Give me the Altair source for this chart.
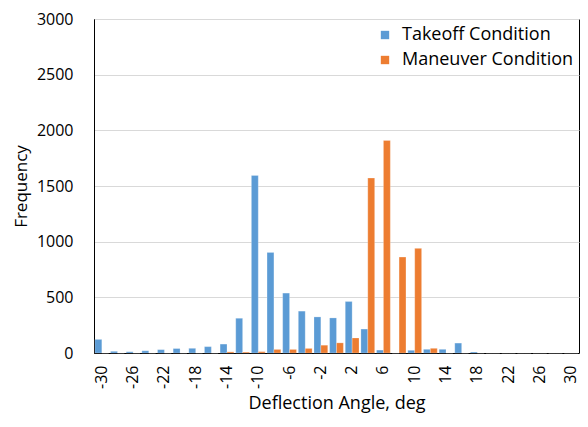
import altair as alt
import pandas as pd

angles = [-30, -28, -26, -24, -22, -20, -18, -16, -14, -12, -10, -8, -6, -4, -2, 0,
          2, 4, 6, 8, 10, 12, 14, 16, 18, 20, 22, 24, 26, 28, 30]
takeoff = [122, 15, 12, 20, 30, 40, 42, 57, 80, 312, 1595, 903, 538, 376, 324, 315,
           462, 215, 26, 0, 24, 33, 33, 89, 9, 0, 0, 0, 0, 0, 0]
maneuver = [0, 0, 0, 0, 0, 0, 0, 0, 10, 8, 12, 32, 32, 41, 70, 91,
            135, 1571, 1909, 862, 940, 42, 0, 0, 0, 0, 0, 0, 0, 0, 0]
series_names = ["Takeoff Condition", "Maneuver Condition"]
colors = ["#5B9BD5", "#ED7D31"]
label_values = [-30, -26, -22, -18, -14, -10, -6, -2, 2, 6, 10, 14, 18, 22, 26, 30]
y_ticks = [0, 500, 1000, 1500, 2000, 2500, 3000]

rows = []
for a, t, m in zip(angles, takeoff, maneuver):
    rows.append({"angle": str(a), "series": series_names[0], "freq": t})
    rows.append({"angle": str(a), "series": series_names[1], "freq": m})
df = pd.DataFrame(rows)

FONT = "Open Sans"
cats = [str(a) for a in angles]

chart = alt.Chart(df).mark_bar(stroke="white", strokeWidth=0.4, strokeOpacity=0.6).encode(
    x=alt.X("angle:N", sort=cats,
            scale=alt.Scale(paddingInner=0.12, paddingOuter=0.06),
            axis=alt.Axis(title="Deflection Angle, deg", values=[str(v) for v in label_values],
                          labelAngle=-90, labelAlign="right", labelBaseline="middle",
                          ticks=False, labelPadding=12, domainColor="black",
                          titlePadding=6)),
    xOffset=alt.XOffset("series:N", sort=series_names),
    y=alt.Y("freq:Q", scale=alt.Scale(domain=[0, 3000]),
            axis=alt.Axis(title="Frequency", values=y_ticks, format="d",
                          ticks=False, labelPadding=21, domainColor="black",
                          gridColor="#d9d9d9", titlePadding=6, titleFontSize=17)),
    color=alt.Color("series:N", sort=series_names,
                    scale=alt.Scale(domain=series_names, range=colors),
                    legend=alt.Legend(title=None, orient="none", legendX=282, legendY=7,
                                      symbolType="square", symbolSize=70,
                                      symbolStrokeWidth=0, rowPadding=7, labelOffset=8,
                                      labelLimit=300,
                                      labelFontSize=18, labelFont=FONT, labelColor="black")),
).properties(
    width=485, height=334,
    autosize=alt.AutoSizeParams(type="none"),
    padding={"left": 86, "top": 11, "right": 1, "bottom": 62},
).configure_view(
    stroke="black", strokeWidth=1
).configure_axis(
    labelFont=FONT, titleFont=FONT, labelFontSize=16, titleFontSize=18,
    labelColor="black", titleColor="black", titleFontWeight="normal"
)

chart.save("out.html", embed_options={"renderer": "svg", "actions": False})
